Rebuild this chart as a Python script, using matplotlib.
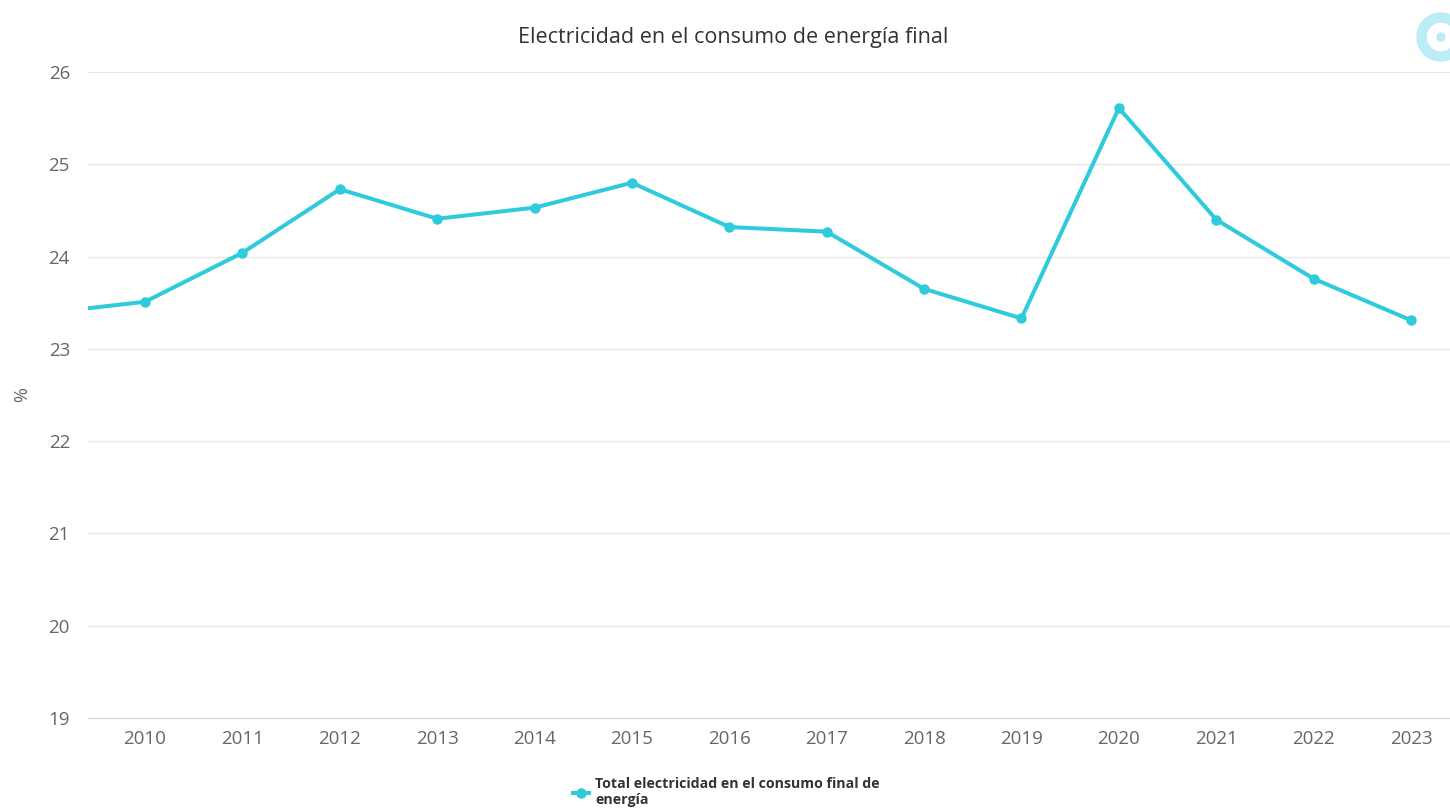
import numpy as np
import matplotlib
matplotlib.use('Agg')
import matplotlib.pyplot as plt
from matplotlib.lines import Line2D
from matplotlib.patches import Wedge, Circle

plt.rcParams['font.family'] = ['Open Sans', 'DejaVu Sans']

# data
years = [2009, 2010, 2011, 2012, 2013, 2014, 2015, 2016, 2017, 2018, 2019, 2020, 2021, 2022, 2023]
values = [23.39, 23.51, 24.04, 24.73, 24.41, 24.53, 24.80, 24.32, 24.27, 23.65, 23.33, 25.61, 24.40, 23.76, 23.31]
tick_years = list(range(2010, 2024))
y_ticks = [19, 20, 21, 22, 23, 24, 25, 26]

title = 'Electricidad en el consumo de energía final'
series_name = 'Total electricidad en el consumo final de\nenergía'
line_color = '#2fcbdd'

fig = plt.figure(figsize=(14.5, 8.08), dpi=100)
ax = fig.add_axes([88/1450, 1 - 718/808, 1 - 88/1450, (718 - 72)/808])

ax.plot(years, values, color=line_color, lw=2.9, marker='o', ms=6.5,
        solid_joinstyle='round', clip_on=True, zorder=3)

ax.set_xlim(2009.415, 2023.40)
ax.set_ylim(19, 26)
ax.set_xticks(tick_years)
ax.set_yticks(y_ticks)
ax.grid(axis='y', color='#e6e6e6', lw=1)
ax.set_axisbelow(True)
for s in ['top', 'right', 'left']:
    ax.spines[s].set_visible(False)
ax.spines['bottom'].set_color('#ccd6eb')
ax.tick_params(axis='both', length=0, colors='#666666', labelsize=13.5)
ax.tick_params(axis='x', pad=9)
ax.tick_params(axis='y', pad=13)

fig.text(22/1450, 1 - 395/808, '%', rotation=90, ha='center', va='center',
         color='#666666', fontsize=13)
fig.text(733/1450, 1 - 37/808, title, ha='center', va='center',
         color='#333333', fontsize=15.5)

# legend at the bottom
handle = Line2D([], [], color=line_color, lw=2.9, marker='o', ms=6.5)
fig.legend([handle], [series_name], loc='upper left',
           bbox_to_anchor=(566/1450, 1 - 770/808), frameon=False,
           handlelength=1.1, handletextpad=0.45, borderpad=0,
           prop={'size': 10.2, 'weight': 'bold'}, labelcolor='#333333')

# logo in the upper right corner
logo_ax = fig.add_axes([1405/1450, 1 - 66/808, 45/1450, 58/808])
logo_ax.set_xlim(0, 45)
logo_ax.set_ylim(0, 58)
logo_ax.set_aspect('equal')
logo_ax.axis('off')
logo_ax.add_patch(Wedge((36, 29), 24, 0, 360, width=9, color='#bcecf5'))
logo_ax.add_patch(Circle((36, 29), 4, color='#bcecf5'))

fig.savefig('out.png', dpi=100)
